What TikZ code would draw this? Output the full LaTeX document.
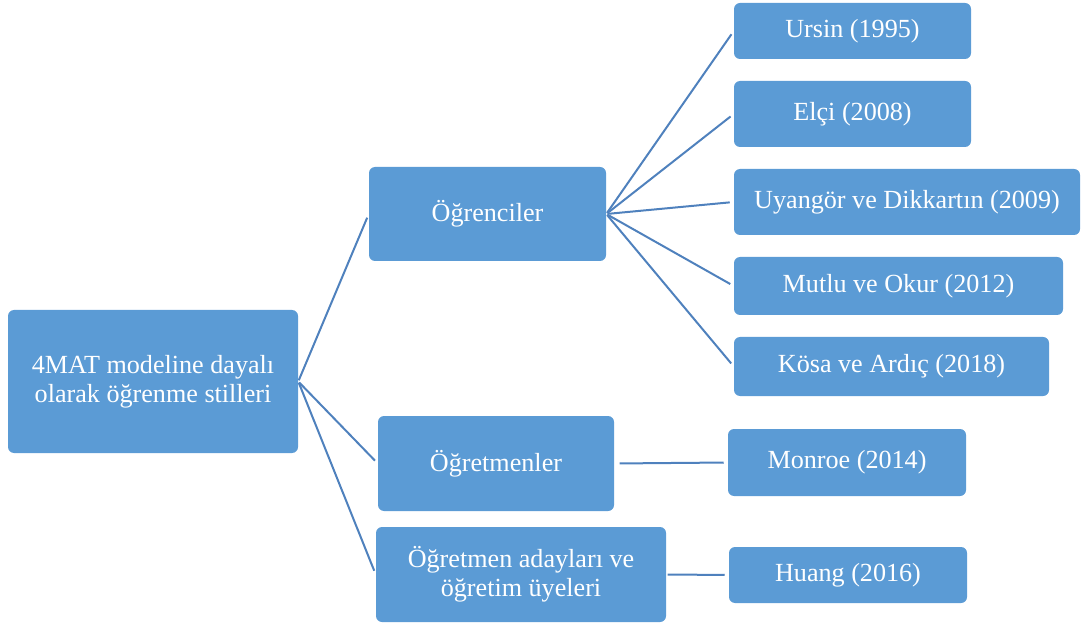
\documentclass[tikz,border=0pt]{standalone}
\usepackage{fontspec}
\setmainfont{Liberation Serif}
\begin{document}
\begin{tikzpicture}[x=0.75pt,y=-0.75pt,
  box/.style={draw=none, fill=boxblue, rounded corners=4.5pt, text=white,
    align=center, inner sep=0pt, font=\fontsize{19.6}{21.5}\selectfont},
  sz/.style 2 args={minimum width=#1*0.75pt, minimum height=#2*0.75pt},
  link/.style={draw=linkblue, line width=1.5pt, shorten >=3pt, shorten <=1pt}]
\definecolor{boxblue}{HTML}{5B9BD5}
\definecolor{linkblue}{HTML}{4F81BD}
\useasboundingbox (0,0) rectangle (1081,623);

% root
\node[box, sz={290}{143}] (root) at (153,381.5) {4MAT modeline dayalı\\olarak öğrenme stilleri};

% second level
\node[box, sz={237}{94}] (ogr) at (487.5,214) {Öğrenciler};
\node[box, sz={236}{95}] (ogt) at (496,463.5) {Öğretmenler};
\node[box, sz={290}{95}] (aday) at (521,574.5) {Öğretmen adayları ve\\öğretim üyeleri};

% studies
\node[box, sz={237}{56}] (ursin) at (852.5,31) {Ursin (1995)};
\node[box, sz={237}{66}] (elci) at (852.5,114) {Elçi (2008)};
\node[box, sz={346}{66}] (uyan) at (907,202) {Uyangör ve Dikkartın (2009)};
\node[box, sz={329}{58}] (mutlu) at (898.5,286) {Mutlu ve Okur (2012)};
\node[box, sz={315}{59}] (kosa) at (891.5,366.5) {Kösa ve Ardıç (2018)};
\node[box, sz={238}{67}] (monroe) at (847,462.5) {Monroe (2014)};
\node[box, sz={238}{56}] (huang) at (848,575) {Huang (2016)};

% connectors
\foreach \c in {ogr,ogt,aday}
  \draw[link] (root.east) -- (\c.west);
\foreach \c in {ursin,elci,uyan,mutlu,kosa}
  \draw[link] (ogr.east) -- (\c.west);
\draw[link, shorten <=4pt] (ogt.east) -- (monroe.west);
\draw[link] (aday.east) -- (huang.west);
\end{tikzpicture}
\end{document}
